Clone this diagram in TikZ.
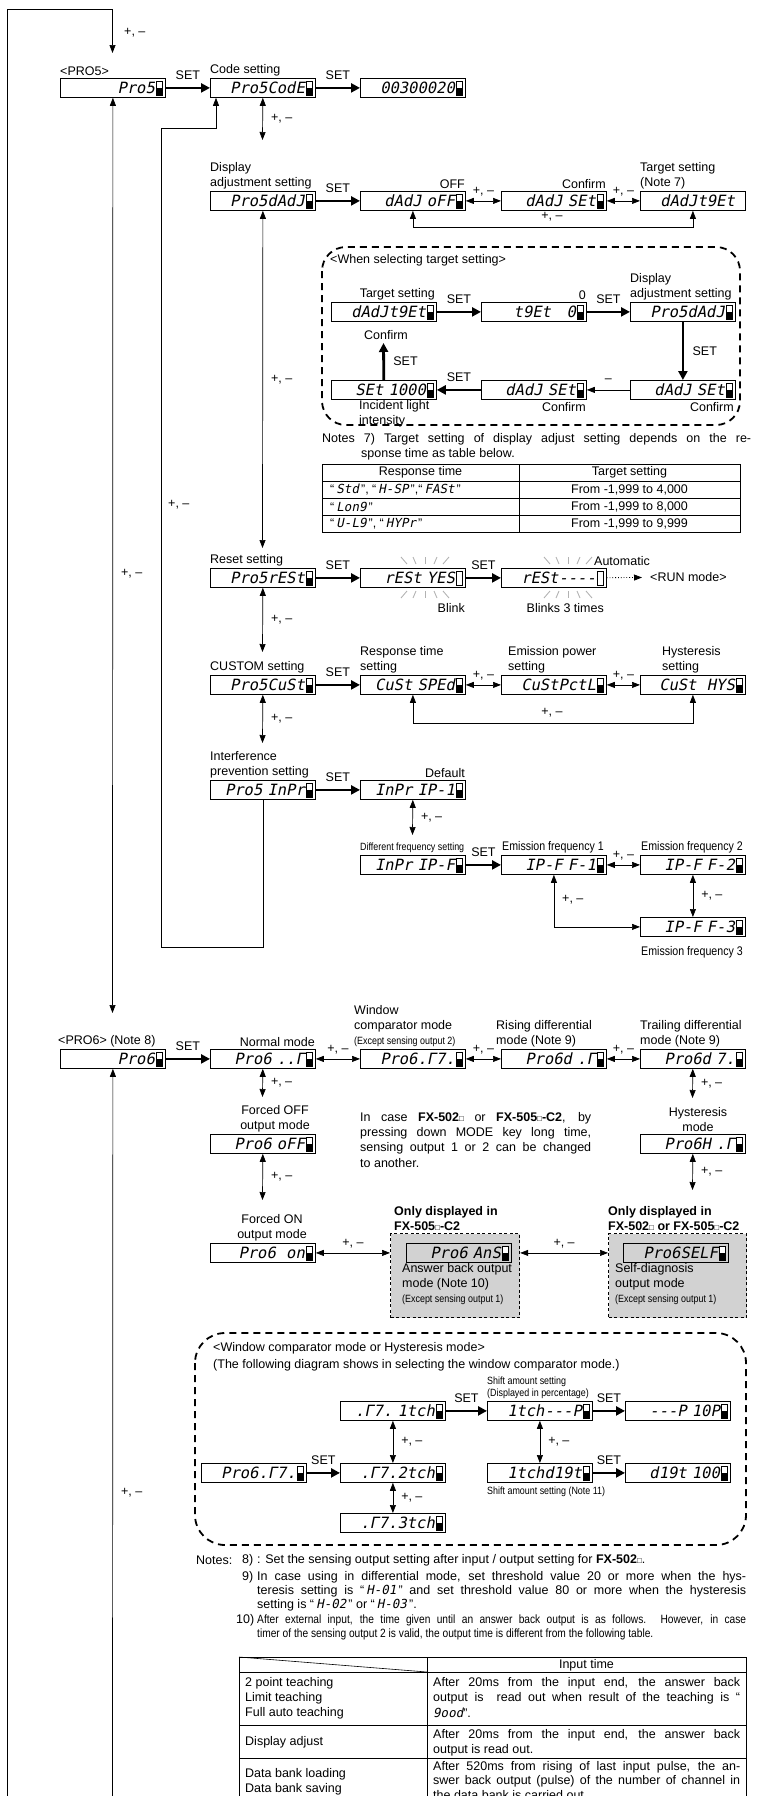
\documentclass[tikz,border=0pt]{standalone}
\usepackage{fontspec}
\setmainfont{Liberation Sans}
\newfontfamily\segfont{DejaVu Sans Mono}[FakeSlant=0.2]
\newfontfamily\condfont{Liberation Sans}[FakeStretch=0.85]
\usetikzlibrary{arrows.meta,positioning}
\newcommand{\lblsize}{\fontsize{12.5}{15}\selectfont}
\newcommand{\tinysize}{\condfont\fontsize{10.5}{12}\selectfont}
\newcommand{\seg}[1]{{\segfont #1}}
\newcommand{\sqr}{{\fontsize{8}{8}\selectfont\mdseries □}}

\tikzset{
  seg/.style={draw, line width=0.8pt, minimum width=105pt, minimum height=19pt,
    inner sep=0pt, anchor=north west, text width=84pt, align=right,
    font=\segfont\fontsize{15.5}{15.5}\selectfont},
  disp/.style={seg, path picture={
    \draw[line width=0.5pt, fill=white]
      ([xshift=-9pt,yshift=-2.5pt]path picture bounding box.north east) rectangle
      ([xshift=-3.5pt,yshift=2.5pt]path picture bounding box.south east);
    \fill ([xshift=-9pt,yshift=2.5pt]path picture bounding box.south east) rectangle
      ([xshift=-3.5pt]path picture bounding box.east);}},
  dispo/.style={seg, path picture={
    \draw[line width=0.5pt]
      ([xshift=-9pt,yshift=-2.5pt]path picture bounding box.north east) rectangle
      ([xshift=-3.5pt,yshift=2.5pt]path picture bounding box.south east);}},
  lbl/.style={inner sep=0pt, align=left, anchor=south west},
  lblr/.style={inner sep=0pt, align=right, anchor=south east},
  lblc/.style={inner sep=0pt, align=center, anchor=south},
  note/.style={inner sep=0pt, anchor=west},
  tiny/.style={inner sep=0pt, align=left, anchor=south west, font=\tinysize},
  pm/.style={inner sep=0pt},
  setarr/.style={line width=2.8pt, -{Triangle[length=9pt,width=9pt]}},
  pmarr/.style={line width=0.7pt, {Triangle[length=8pt,width=6pt]}-{Triangle[length=8pt,width=6pt]}},
  onearr/.style={line width=0.7pt, -{Triangle[length=8pt,width=6pt]}},
  runarr/.style={line width=0.8pt, dotted, -{Triangle[length=8pt,width=6pt]}},
  grp/.style={line width=1.8pt, dash pattern=on 7pt off 5pt, rounded corners=24pt},
  optbox/.style={draw, fill=gray!35, line width=1.2pt, dash pattern=on 3pt off 2.5pt,
    inner sep=0pt, anchor=north west},
  blink/.style={gray!60, line width=0.9pt},
}

\begin{document}
\begin{tikzpicture}[x=1pt, y=-1pt, font=\lblsize]
\useasboundingbox (0,0) rectangle (763,1796);

% ---- PRO5 ----
\node[lbl] at (60,76) {<PRO5>};
\node[disp] (p5) at (60,78) {Pro5};
\node[lbl] at (210,76) {Code setting};
\node[disp] (code) at (210,78) {Pro5CodE};
\node[disp] (cval) at (360,78) {00300020};
\draw[setarr] (p5) -- node[above=4pt] {SET} (code);
\draw[setarr] (code) -- node[above=4pt] {SET} (cval);

% outer loop back to PRO5, and PRO5 <-> PRO6
\coordinate (outerbot) at (7,1800);
\coordinate (p5turn) at (112.5,9);
\coordinate (p5in) at (112.5,53);
\draw[onearr] (outerbot) |- (p5turn) -- (p5in);
\node[pm, anchor=west] at (124,33) {+, –};
\coordinate (p6in) at (112.5,1013);
\draw[pmarr] (p5) -- node[pm, pos=0.52, right=8pt] {+, –} (p6in);

% Code setting <-> Display adjustment
\coordinate (dadjin) at (262.5,140);
\draw[pmarr] (code) -- node[pm, right=8pt] {+, –} (dadjin);

% ---- Display adjustment ----
\node[lbl] at (210,189) {Display\\adjustment setting};
\node[disp] (dadj) at (210,191) {Pro5dAdJ};
\node[lblr] at (465,189) {OFF};
\node[disp] (doff) at (360,191) {dAdJ~oFF};
\node[lblr] at (606,189) {Confirm};
\node[disp] (dset) at (501,191) {dAdJ~SEt};
\node[lbl] at (640,189) {Target setting\\(Note 7)};
\node[seg] (dtgt) at (640,191) {dAdJt9Et};
\draw[setarr] (dadj) -- node[above=4pt] {SET} (doff);
\draw[pmarr] (doff) -- node[pm, above=4pt] {+, –} (dset);
\draw[pmarr] (dset) -- node[pm, above=4pt] {+, –} (dtgt);
\draw[pmarr] (doff.south) -- ++(0,17) -| (dtgt.south);
\node[pm] at (552,217) {+, –};
\coordinate (rstin) at (262.5,548);
\draw[pmarr] (dadj) -- node[pm, right=8pt] {+, –} (rstin);

% <When selecting target setting>
\draw[grp] (322,247) rectangle (740,425);
\node[note] at (330,260) {<When selecting target setting>};
\node[lblr] at (435,300) {Target setting};
\node[disp] (ta) at (331,302) {dAdJt9Et};
\node[lblr] at (586,300) {0};
\node[disp] (tb) at (481,302) {t9Et~~~0};
\node[lbl] at (630,300) {Display\\adjustment setting};
\node[disp] (tc) at (630,302) {Pro5dAdJ};
\node[disp] (td) at (630,380) {dAdJ~SEt};
\node[disp] (te) at (481,380) {dAdJ~SEt};
\node[disp] (tf) at (331,380) {SEt~1000};
\coordinate (cfm) at (383.5,343);
\draw[setarr] (ta) -- node[above=4pt] {SET} (tb);
\draw[setarr] (tb) -- node[above=4pt] {SET} (tc);
\draw[setarr] (tc) -- node[right=5pt] {SET} (td);
\draw[onearr] (td) -- node[above=4pt] {–} (te);
\draw[setarr] (te) -- node[above=4pt] {SET} (tf);
\draw[setarr] (tf) -- node[right=5pt] {SET} (cfm);
\node[lblc] at (386,340) {Confirm};
\node[lbl, anchor=north west] at (359,400) {Incident light\\intensity};
\node[lblr, anchor=north east] at (586,402) {Confirm};
\node[lblr, anchor=north east] at (734,402) {Confirm};

% Notes 7 and table
\node[note] at (322,439) {\makebox[429pt][s]{Notes 7) Target setting of display adjust setting depends on the re-}};
\node[note] at (361,454) {sponse time as table below.};
\draw[line width=0.8pt] (322,464) rectangle (740,532);
\draw[line width=0.6pt] (519,464) -- (519,532);
\foreach \y in {481,498,515} \draw[line width=0.6pt] (322,\y) -- (740,\y);
\node at (420.5,472.5) {Response time};
\node at (629.5,472.5) {Target setting};
\node[note] at (330,489.5) {“\,\seg{Std}\,”, “\,\seg{H-SP}\,”,“\,\seg{FASt}\,”};
\node[note] at (330,506.5) {“\,\seg{Lon9}\,”};
\node[note] at (330,523.5) {“\,\seg{U-L9}\,”, “\,\seg{HYPr}\,”};
\node at (629.5,489.5) {From -1,999 to 4,000};
\node at (629.5,506.5) {From -1,999 to 8,000};
\node at (629.5,523.5) {From -1,999 to 9,999};

% ---- Reset ----
\node[lbl] at (210,566) {Reset setting};
\node[disp] (rst) at (210,568) {Pro5rESt};
\node[dispo] (ryes) at (360,568) {rESt~YES};
\node[dispo] (rrun) at (501,568) {rESt----};
\node[lbl] at (594,566) {Automatic};
\draw[setarr] (rst) -- node[above=4pt] {SET} (ryes);
\draw[setarr] (ryes) -- node[above=4pt] {SET} (rrun);
\coordinate (runpt) at (642,577.5);
\draw[runarr] (rrun) -- (runpt);
\node[note] at (650,577.5) {<RUN mode>};
\foreach \k in {-2,...,2} {
  \draw[blink] ({425+\k*9},564) -- ({425+\k*12},557);
  \draw[blink] ({425+\k*9},591) -- ({425+\k*12},598);
  \draw[blink] ({568+\k*9},564) -- ({568+\k*12},557);
  \draw[blink] ({568+\k*9},591) -- ({568+\k*12},598);
}
\node[lblr, anchor=north east] at (465,603) {Blink};
\node[lblr, anchor=north east] at (604,603) {Blinks 3 times};
\coordinate (cusin) at (262.5,652);
\draw[pmarr] (rst) -- node[pm, right=8pt] {+, –} (cusin);

% ---- CUSTOM ----
\node[lbl] at (210,673) {CUSTOM setting};
\node[disp] (cus) at (210,675) {Pro5CuSt};
\node[lbl] at (360,673) {Response time\\setting};
\node[disp] (cspd) at (360,675) {CuSt~SPEd};
\node[lbl] at (508,673) {Emission power\\setting};
\node[disp] (cpct) at (501,675) {CuStPctL};
\node[lbl] at (662,673) {Hysteresis\\setting};
\node[disp] (chys) at (640,675) {CuSt~~HYS};
\draw[setarr] (cus) -- node[above=4pt] {SET} (cspd);
\draw[pmarr] (cspd) -- node[pm, above=4pt] {+, –} (cpct);
\draw[pmarr] (cpct) -- node[pm, above=4pt] {+, –} (chys);
\draw[pmarr] (cspd.south) -- ++(0,28.5) -| (chys.south);
\node[pm] at (552,713) {+, –};
\coordinate (inpin) at (262.5,743);
\draw[pmarr] (cus) -- node[pm, right=8pt] {+, –} (inpin);

% ---- Interference prevention ----
\node[lbl] at (210,778) {Interference\\prevention setting};
\node[disp] (inpr) at (210,780) {Pro5~InPr};
\node[lblr] at (465,778) {Default};
\node[disp] (inp1) at (360,780) {InPr~IP-1};
\draw[setarr] (inpr) -- node[above=4pt] {SET} (inp1);
\coordinate (difin) at (412.5,835);
\draw[pmarr] (inp1) -- node[pm, right=8pt] {+, –} (difin);

\node[tiny] at (360,853) {Different frequency setting};
\node[disp] (ipf) at (360,855) {InPr~IP-F};
\node[lbl, font=\condfont\lblsize] at (502,853) {Emission frequency 1};
\node[disp] (f1) at (501,855) {IP-F~F-1};
\node[lbl, font=\condfont\lblsize] at (641,853) {Emission frequency 2};
\node[disp] (f2) at (640,855) {IP-F~F-2};
\node[disp] (f3) at (640,917) {IP-F~F-3};
\node[lbl, anchor=north west, font=\condfont\lblsize] at (641,946) {Emission frequency 3};
\draw[setarr] (ipf) -- node[above=4pt] {SET} (f1);
\draw[pmarr] (f1) -- node[pm, above=4pt] {+, –} (f2);
\draw[pmarr] (f1.south) |- (f3.west);
\node[pm, anchor=west] at (562,900) {+, –};
\draw[pmarr] (f2) -- node[pm, right=8pt] {+, –} (f3);

% inner loop back to Code setting
\coordinate (lpbot) at (161,947);
\coordinate (lptop) at (161,128);
\draw[onearr] (inpr) |- (lpbot) -- (lptop) -| ([xshift=6pt]code.south west);
\node[pm, anchor=west] at (168,505) {+, –};

% ---- PRO6 ----
\node[lbl] at (58,1047) {<PRO6> (Note 8)};
\node[disp] (p6) at (60,1049) {Pro6};
\node[lblr] at (315,1047) {Normal mode};
\node[disp] (nrm) at (210,1049) {Pro6~..Γ};
\node[lbl] at (354,1047) {Window\\comparator mode\\{\tinysize (Except sensing output 2)}};
\node[disp] (wcm) at (360,1049) {Pro6.Γ7.};
\node[lbl] at (496,1047) {Rising differential\\mode (Note 9)};
\node[disp] (rdf) at (501,1049) {Pro6d~.Γ};
\node[lbl] at (640,1047) {Trailing differential\\mode (Note 9)};
\node[disp] (tdf) at (640,1049) {Pro6d~7.};
\draw[setarr] (p6) -- node[above=4pt] {SET} (nrm);
\draw[pmarr] (nrm) -- node[pm, above=4pt] {+, –} (wcm);
\draw[pmarr] (wcm) -- node[pm, above=4pt] {+, –} (rdf);
\draw[pmarr] (rdf) -- node[pm, above=4pt] {+, –} (tdf);
\coordinate (midbot) at (112.5,1800);
\draw[onearr] (midbot) -- node[pm, pos=0.42, right=8pt] {+, –} (p6);

\coordinate (foffin) at (262.5,1097);
\draw[pmarr] (nrm) -- node[pm, right=8pt] {+, –} (foffin);
\node[lblc] at (275,1132) {Forced OFF\\output mode};
\node[disp] (foff) at (210,1134) {Pro6~oFF};
\coordinate (hysin) at (692.5,1098);
\draw[pmarr] (tdf) -- node[pm, right=8pt] {+, –} (hysin);
\node[lblc] at (698,1132) {Hysteresis\\mode};
\node[disp] (hys) at (640,1134) {Pro6H~.Γ};

\node[note] at (360,1118) {\makebox[231pt][s]{In case \textbf{FX-502}\sqr{} or \textbf{FX-505}\sqr\textbf{-C2}, by}};
\node[note] at (360,1133) {\makebox[231pt][s]{pressing down MODE key long time,}};
\node[note] at (360,1148) {\makebox[231pt][s]{sensing output 1 or 2 can be changed}};
\node[note] at (360,1163) {to another.};

\coordinate (fonin) at (262.5,1200);
\draw[pmarr] (foff) -- node[pm, right=8pt] {+, –} (fonin);
\coordinate (slfin) at (692.5,1190);
\draw[pmarr] (hys) -- node[pm, right=8pt] {+, –} (slfin);
\node[lblc] at (272,1241) {Forced ON\\output mode};
\node[disp] (fon) at (210,1243) {Pro6~~on};

\node[optbox, minimum width=129pt, minimum height=84pt] (ansbox) at (390,1233) {};
\node[lbl, font=\lblsize\bfseries] at (394,1231) {Only displayed in\\FX-505\sqr-C2};
\node[disp] (ans) at (406,1243) {Pro6~AnS};
\node[lbl, anchor=north west] at (402,1263) {Answer back output\\mode (Note 10)\\{\tinysize (Except sensing output 1)}};
\node[optbox, minimum width=138pt, minimum height=84pt] (slfbox) at (608,1233) {};
\node[lbl, font=\lblsize\bfseries] at (608,1231) {Only displayed in\\FX-502\sqr{} or FX-505\sqr-C2};
\node[disp] (slf) at (623,1243) {Pro6SELF};
\node[lbl, anchor=north west] at (615,1263) {Self-diagnosis\\output mode\\{\tinysize (Except sensing output 1)}};
\draw[pmarr] (fon.east) -- node[pm, above=4pt] {+, –} (fon.east -| ansbox.west);
\draw[pmarr] (ansbox.east |- fon.east) -- node[pm, above=4pt] {+, –} (slfbox.west |- fon.east);

% <Window comparator mode or Hysteresis mode>
\draw[grp, rounded corners=30pt] (195,1333) rectangle (746,1545);
\node[note] at (213,1348) {<Window comparator mode or Hysteresis mode>};
\node[note] at (213,1365) {(The following diagram shows in selecting the window comparator mode.)};
\node[tiny] at (487,1399) {Shift amount setting\\(Displayed in percentage)};
\node[disp] (w1) at (340,1401) {.Γ7.~1tch};
\node[disp] (s1) at (487,1401) {1tch---P};
\node[disp] (s2) at (625,1401) {---P~10P};
\node[disp] (w0) at (201,1463) {Pro6.Γ7.};
\node[disp] (w2) at (340,1463) {.Γ7.2tch};
\node[disp] (s3) at (487,1463) {1tchd19t};
\node[disp] (s4) at (625,1463) {d19t~100};
\node[disp] (w3) at (340,1513) {.Γ7.3tch};
\node[tiny, anchor=north west] at (487,1487) {Shift amount setting (Note 11)};
\draw[setarr] (w1) -- node[above=4pt] {SET} (s1);
\draw[setarr] (s1) -- node[above=4pt] {SET} (s2);
\draw[setarr] (w0) -- node[above=4pt] {SET} (w2);
\draw[setarr] (s3) -- node[above=4pt] {SET} (s4);
\draw[pmarr] (w1) -- node[pm, right=8pt] {+, –} (w2);
\draw[pmarr] (w2) -- node[pm, right=8pt] {+, –} (w3);
\draw[pmarr] (s1) -- node[pm, right=8pt] {+, –} (s3);

% Notes 8) to 10)
\node[note] at (196,1560) {Notes:};
\node[note] at (242,1560) {8)};
\node[note] at (257,1560) {: Set the sensing output setting after input / output setting for \textbf{FX-502}\sqr.};
\node[note] at (242,1577) {9)};
\node[note] at (257,1577) {\makebox[489pt][s]{In case using in differential mode, set threshold value 20 or more when the hys-}};
\node[note] at (257,1591) {\makebox[489pt][s]{teresis setting is “\,\seg{H-01}\,” and set threshold value 80 or more when the hysteresis}};
\node[note] at (257,1605) {setting is “\,\seg{H-02}\,” or “\,\seg{H-03}\,”.};
\node[note] at (236,1620) {10)};
\node[note, font=\condfont\fontsize{12}{14}\selectfont] at (257,1620) {\makebox[489pt][s]{After external input, the time given until an answer back output is as follows. However, in case}};
\node[note, font=\condfont\fontsize{12}{14}\selectfont] at (257,1634) {timer of the sensing output 2 is valid, the output time is different from the following table.};

% answer back table
\draw[line width=0.8pt] (239,1800) -- (239,1657) -- (746,1657) -- (746,1800);
\draw[line width=0.6pt] (427,1657) -- (427,1800);
\foreach \y in {1672,1725,1758} \draw[line width=0.6pt] (239,\y) -- (746,\y);
\draw[line width=0.6pt] (239,1657) -- (427,1672);
\node at (586.5,1665) {Input time};
\node[note] at (245,1683) {2 point teaching};
\node[note] at (245,1698) {Limit teaching};
\node[note] at (245,1713) {Full auto teaching};
\node[note] at (433,1683) {\makebox[307pt][s]{After 20ms from the input end, the answer back}};
\node[note] at (433,1698) {\makebox[307pt][s]{output is \ read out when result of the teaching is “}};
\node[note] at (433,1713) {\seg{9ood}”.};
\node[note] at (245,1742) {Display adjust};
\node[note] at (433,1735) {\makebox[307pt][s]{After 20ms from the input end, the answer back}};
\node[note] at (433,1750) {output is read out.};
\node[note] at (245,1774) {Data bank loading};
\node[note] at (245,1789) {Data bank saving};
\node[note] at (433,1767) {\makebox[307pt][s]{After 520ms from rising of last input pulse, the an-}};
\node[note] at (433,1781) {\makebox[307pt][s]{swer back output (pulse) of the number of channel in}};
\node[note] at (433,1795) {the data bank is carried out.};
\end{tikzpicture}
\end{document}
